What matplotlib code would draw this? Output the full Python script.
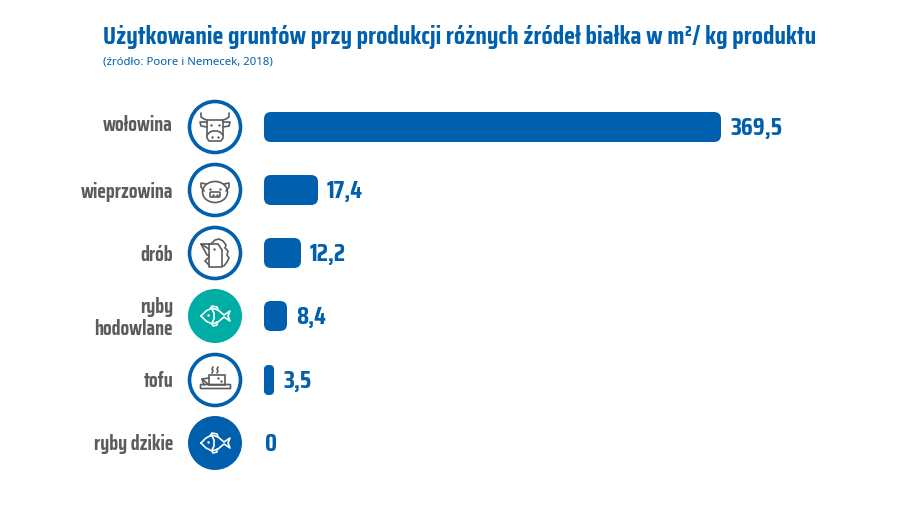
# -*- coding: utf-8 -*-
import matplotlib
matplotlib.use('Agg')
import matplotlib.pyplot as plt
from matplotlib.patches import Circle, FancyBboxPatch, Ellipse, Rectangle

# dane
labels = ['wołowina', 'wieprzowina', 'drób', 'ryby\nhodowlane', 'tofu', 'ryby dzikie']
value_labels = ['369,5', '17,4', '12,2', '8,4', '3,5', '0']
# dlugosci slupkow (skala nie jest liniowa)
bar_lengths = [457, 54, 37, 23, 10, 0]
icons = ['cow', 'pig', 'hen', 'fish', 'tofu', 'fish']
circle_styles = ['ring', 'ring', 'ring', 'teal', 'ring', 'blue']

BLUE = '#0060ae'
TEAL = '#00ada4'
GREY = '#5c5c5c'
HEAD = ['Saira Condensed', 'DejaVu Sans']

row_y = [127, 190, 253, 316, 380, 443]
label_y = [124, 191, 254, 317, 380, 443]
x_bar = 264
x_icon = 215

fig = plt.figure(figsize=(9, 5.06), dpi=100)
ax = fig.add_axes([0, 0, 1, 1])
ax.set_xlim(0, 900)
ax.set_ylim(505, -1)
ax.axis('off')


def line(cx, cy, pts, col):
    ax.plot([cx + p[0] for p in pts], [cy + p[1] for p in pts], color=col, lw=1.2,
            solid_capstyle='round', solid_joinstyle='round', zorder=4)


def dots(cx, cy, pts, col):
    ax.scatter([cx + p[0] for p in pts], [cy + p[1] for p in pts], s=3, color=col,
               linewidths=0, zorder=4)


def draw_cow(cx, cy, col):
    line(cx, cy, [(-14, -14), (-14, -10), (-11, -8), (-8, -7), (8, -7), (11, -8), (14, -10), (14, -14)], col)
    line(cx, cy, [(-8, -5), (-15, -5), (-14, -1), (-8, 0)], col)
    line(cx, cy, [(8, -5), (15, -5), (14, -1), (8, 0)], col)
    line(cx, cy, [(-8, -7), (-8, 11), (-6, 14), (6, 14), (8, 11), (8, -7)], col)
    line(cx, cy, [(-8, 8), (-5, 5), (-2, 4), (2, 4), (5, 5), (8, 8)], col)
    dots(cx, cy, [(-4, -2), (4, -2), (-3, 10), (3, 10)], col)


def draw_pig(cx, cy, col):
    ax.add_patch(Ellipse((cx, cy + 2), 25, 21, fill=False, ec=col, lw=1.2, zorder=4))
    line(cx, cy, [(-9, -6), (-14, -7), (-14, -3), (-11, 1)], col)
    line(cx, cy, [(9, -6), (14, -7), (14, -3), (11, 1)], col)
    ax.add_patch(FancyBboxPatch((cx - 4, cy + 3), 8, 3, boxstyle='round,pad=1', fill=False,
                                ec=col, lw=1.2, zorder=4))
    dots(cx, cy, [(-5, -1), (5, -1), (-2, 4.5), (2, 4.5)], col)


def draw_hen(cx, cy, col):
    line(cx, cy, [(-6, -4), (-14, -9), (-6, -9)], col)
    line(cx, cy, [(-14, -9), (-8, 2), (-6, 2)], col)
    line(cx, cy, [(-6, -9), (-6, 14), (7, 14), (7, -3), (3, -9), (-6, -9)], col)
    line(cx, cy, [(-6, 4), (-10, 8), (-6, 12)], col)
    line(cx, cy, [(-4, -9), (0, -13), (4, -14), (8, -12), (11, -8), (10, -5), (13, -2), (12, 2),
                  (14, 5), (12, 9), (9, 13), (7, 13)], col)
    dots(cx, cy, [(-1, -4)], col)


def draw_fish(cx, cy, col):
    line(cx, cy, [(-14, 0), (-9, -5), (-3, -8), (3, -6), (9, -1), (15, -5), (13, 0), (15, 5), (9, 1),
                  (3, 6), (-3, 8), (-9, 5), (-14, 0)], col)
    line(cx, cy, [(-5, -7), (-3, -10), (2, -9), (3, -6)], col)
    line(cx, cy, [(-3, 8), (-2, 10), (2, 9), (2, 6)], col)
    line(cx, cy, [(-3, -7), (-1, -3), (-1, 3), (-3, 7)], col)
    dots(cx, cy, [(-7, -1)], col)


def draw_tofu(cx, cy, col):
    ax.add_patch(FancyBboxPatch((cx - 14, cy + 5), 29, 3, boxstyle='round,pad=0.5', fill=False,
                                ec=col, lw=1.2, zorder=4))
    ax.add_patch(Rectangle((cx - 6, cy - 5), 16, 10, fill=False, ec=col, lw=1.2, zorder=4))
    line(cx, cy, [(-11, 5), (-13, -1), (-6, -2)], col)
    line(cx, cy, [(-13, -1), (-6, 5)], col)
    line(cx, cy, [(-2, -13), (-3, -11), (-2, -9), (-3, -7)], col)
    line(cx, cy, [(3, -13), (2, -11), (3, -9), (2, -7)], col)
    dots(cx, cy, [(3, -2), (6, 1)], col)


draw_icon = {'cow': draw_cow, 'pig': draw_pig, 'hen': draw_hen, 'fish': draw_fish, 'tofu': draw_tofu}

# slupki: barh daje geometrie, zaokraglenie przez FancyBboxPatch
bars = ax.barh(row_y, bar_lengths, height=30, left=x_bar, color=BLUE)
for b in bars:
    b.set_visible(False)
    w = b.get_width()
    if w <= 0:
        continue
    r = min(7, w / 2 - 0.5)
    ax.add_patch(FancyBboxPatch((b.get_x() + r, b.get_y() + r), w - 2 * r, b.get_height() - 2 * r,
                                boxstyle='round,pad=%f,rounding_size=%f' % (r, r),
                                fc=BLUE, ec='none', zorder=3))

for i in range(len(labels)):
    y = row_y[i]
    # kolo z ikona
    if circle_styles[i] == 'ring':
        ax.add_patch(Circle((x_icon, y), 25.5, fc='white', ec=BLUE, lw=2.6, zorder=3))
        col = GREY
    else:
        ax.add_patch(Circle((x_icon, y), 27, fc=TEAL if circle_styles[i] == 'teal' else BLUE,
                            ec='none', zorder=3))
        col = 'white'
    draw_icon[icons[i]](x_icon, y, col)

    ax.text(173, label_y[i], labels[i], ha='right', va='center', color=GREY, fontsize=14.5,
            fontweight='bold', family=HEAD, linespacing=1.1)

    end = x_bar + bar_lengths[i]
    xv = end + 9 if bar_lengths[i] > 0 else end + 1
    ax.text(xv, y, value_labels[i], ha='left', va='center', color=BLUE, fontsize=18,
            fontweight='bold', family=HEAD)

# tytul
ax.text(103, 43, 'Użytkowanie gruntów przy produkcji różnych źródeł białka w m²/ kg produktu',
        color=BLUE, fontsize=18.55, fontweight='bold', family=HEAD, ha='left', va='baseline')
ax.text(103, 63, '(źródło: Poore i Nemecek, 2018)', color=BLUE, fontsize=8.2,
        family=['Noto Sans', 'DejaVu Sans'], ha='left', va='baseline')

fig.savefig('out.png', dpi=100, facecolor='white')
